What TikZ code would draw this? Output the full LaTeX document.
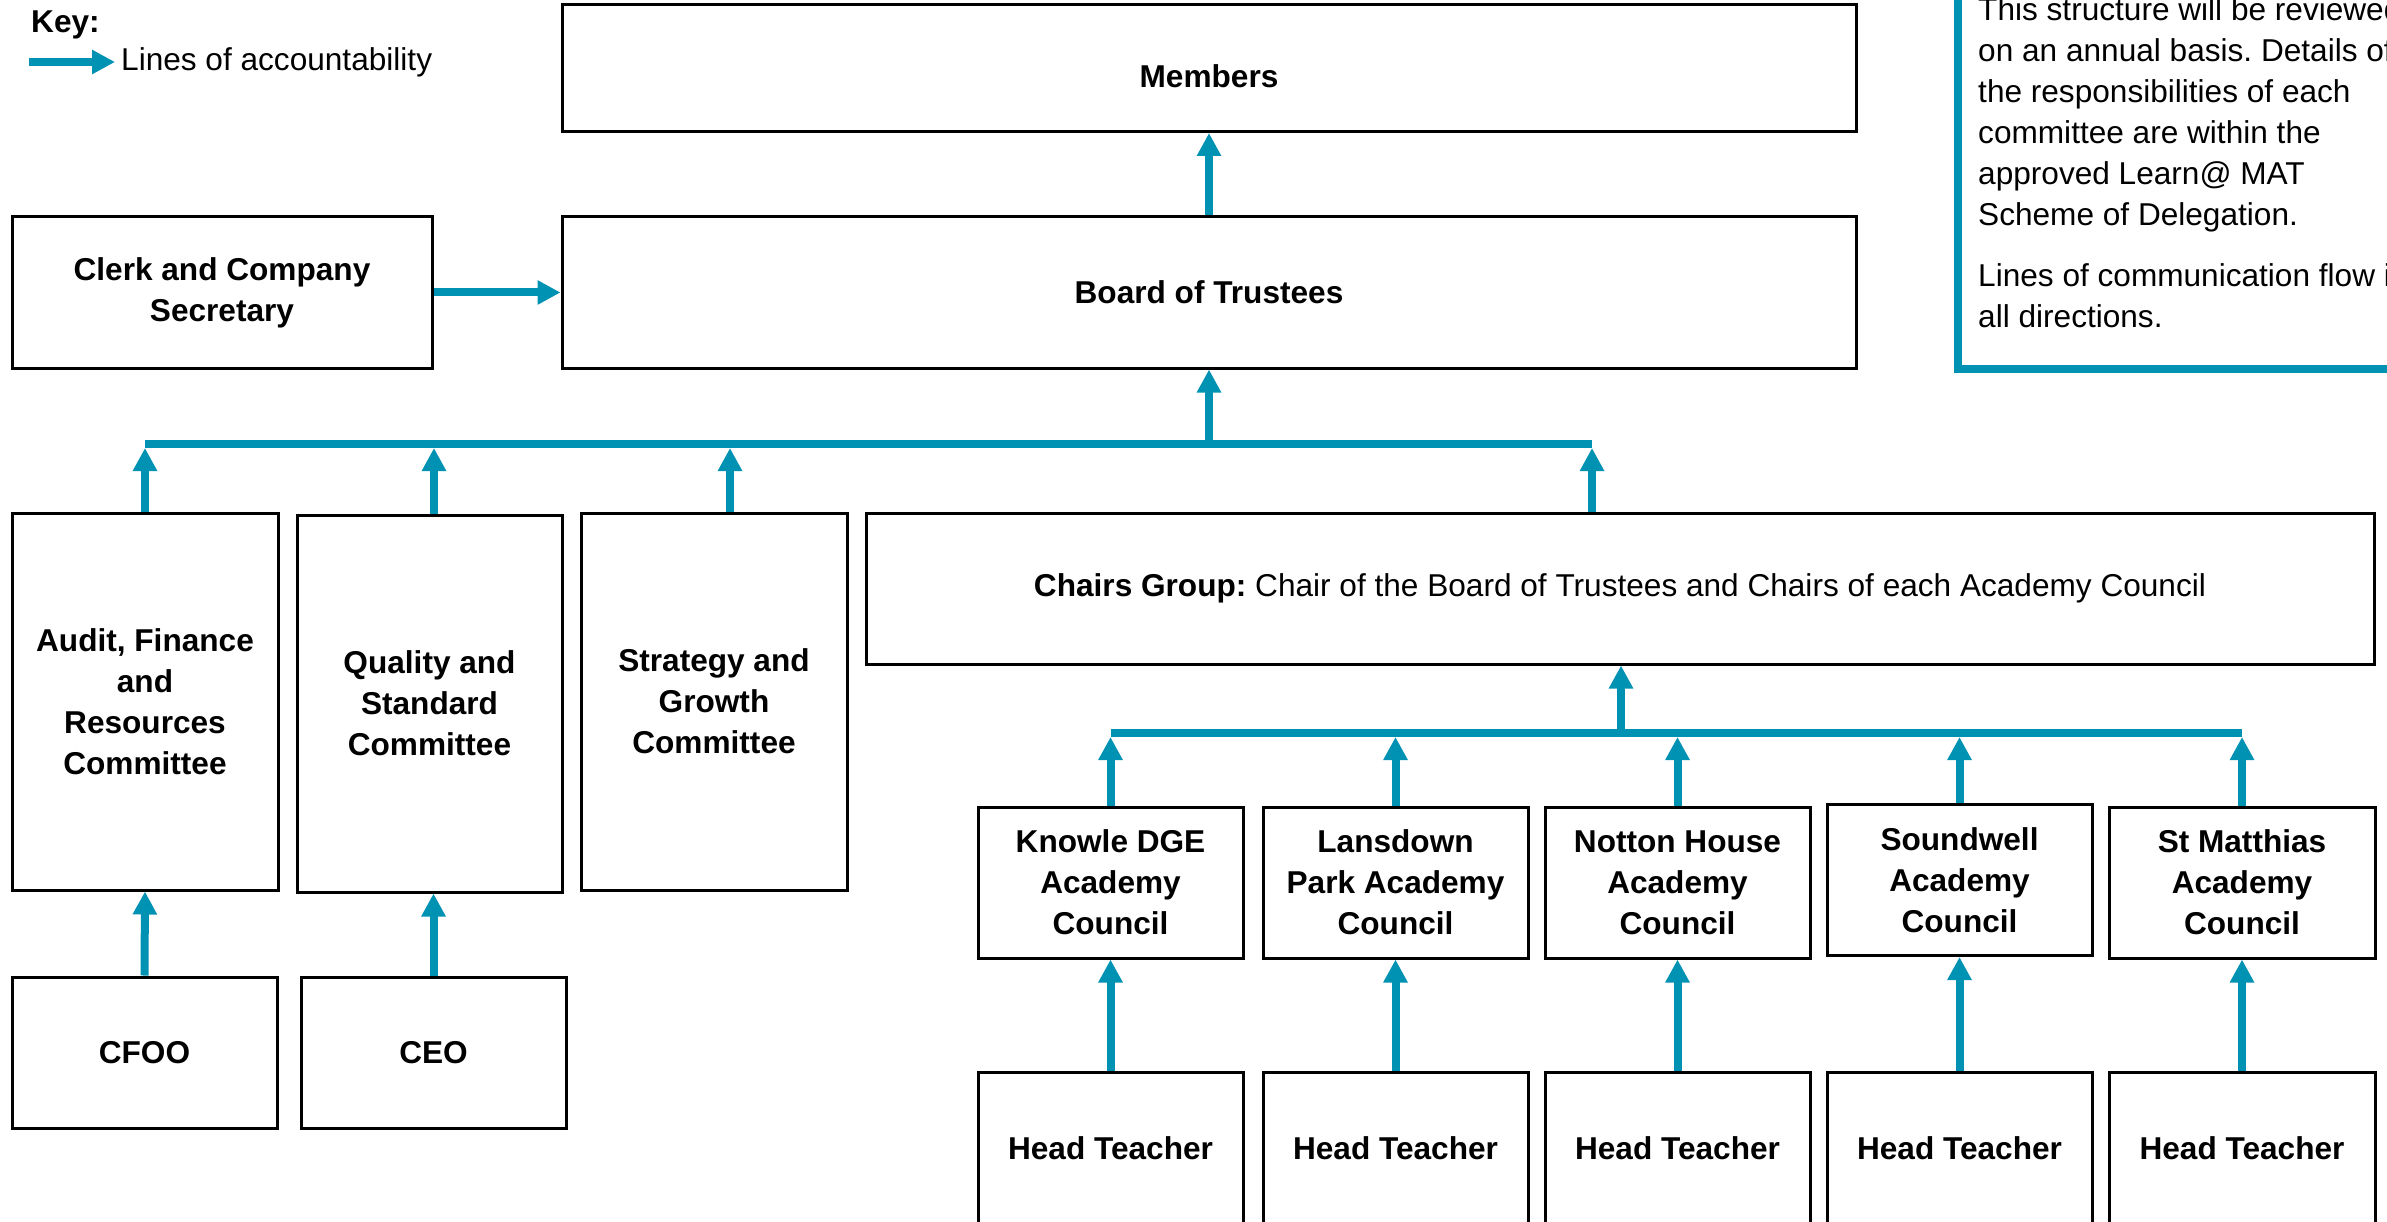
\documentclass[tikz,border=0pt]{standalone}
\usepackage{fontspec}
\setmainfont{Liberation Sans}
\usetikzlibrary{arrows.meta}
\definecolor{accteal}{RGB}{0,146,178}
\newcommand\bodyfont{\fontsize{31.6pt}{41pt}\selectfont}
\frenchspacing
\begin{document}
\begin{tikzpicture}[x=1pt,y=-1pt,
  box/.style={draw=black, line width=3pt, inner sep=0pt, align=center, font=\bodyfont\bfseries},
  txt/.style={inner sep=0pt, font=\bodyfont},
  acc/.style={draw=accteal, line width=8pt, -{Triangle[width=23pt,length=23pt]}},
  bus/.style={draw=accteal, line width=8pt},
]
\useasboundingbox (0,0) rectangle (2387,1222);
\clip (0,0) rectangle (2387,1222);

% key
\node[txt, anchor=base west, font=\bodyfont\bfseries] (keyhdr) at (31,33) {Key:};
\node[txt, anchor=base west] (keytxt) at (121,71) {Lines of accountability};
\coordinate (k1) at (29,62);
\coordinate (k2) at (115,62);
\draw[acc] (k1) -- (k2);

% note box
\draw[accteal, line width=8pt] (1958,-40) rectangle (2460,369);
\node[txt, anchor=north west, align=left] (note) at (1978,-3)
 {This structure will be reviewed\\ on an annual basis. Details of\\ the responsibilities of each\\ committee are within the\\ approved Learn@ MAT\\ Scheme of Delegation.\\[20pt] Lines of communication flow in\\ all directions.};

% top boxes
\node[box, minimum width=1294pt, minimum height=127pt] (members) at (1209,68) {};
\node[txt, font=\bodyfont\bfseries] (memberstxt) at (1209,76) {Members};
\node[box, minimum width=1294pt, minimum height=151pt] (board) at (1209,292.5) {Board of Trustees};
\node[box, minimum width=420pt, minimum height=151pt] (clerk) at (222,292.5) {Clerk and Company\\ Secretary};

% committees
\node[box, minimum width=266pt, minimum height=377pt] (audit) at (145,701.5) {Audit, Finance\\ and\\ Resources\\ Committee};
\node[box, minimum width=265pt, minimum height=377pt] (quality) at (429.5,703.5) {Quality and\\ Standard\\ Committee};
\node[box, minimum width=266pt, minimum height=377pt] (strategy) at (714,701.5) {Strategy and\\ Growth\\ Committee};
\node[box, minimum width=1508pt, minimum height=151pt, font=\bodyfont] (chairs) at (1620,588.5) {\textbf{Chairs Group:} Chair of the Board of Trustees and Chairs of each Academy Council};

% executives
\node[box, minimum width=265pt, minimum height=151pt] (cfoo) at (144.5,1052.5) {CFOO};
\node[box, minimum width=265pt, minimum height=151pt] (ceo) at (433.5,1052.5) {CEO};

% academy councils
\node[box, minimum width=265pt, minimum height=151pt] (knowle) at (1110.5,882.5) {Knowle DGE\\ Academy\\ Council};
\node[box, minimum width=265pt, minimum height=151pt] (lansdown) at (1395.5,882.5) {Lansdown\\ Park Academy\\ Council};
\node[box, minimum width=265pt, minimum height=151pt] (notton) at (1677.5,882.5) {Notton House\\ Academy\\ Council};
\node[box, minimum width=265pt, minimum height=151pt] (soundwell) at (1959.5,880) {Soundwell\\ Academy\\ Council};
\node[box, minimum width=266pt, minimum height=151pt] (stm) at (2242,882.5) {St Matthias\\ Academy\\ Council};

% head teachers
\node[box, minimum width=265pt, minimum height=152pt] (h1) at (1110.5,1148) {Head Teacher};
\node[box, minimum width=265pt, minimum height=152pt] (h2) at (1395.5,1148) {Head Teacher};
\node[box, minimum width=265pt, minimum height=152pt] (h3) at (1677.5,1148) {Head Teacher};
\node[box, minimum width=265pt, minimum height=152pt] (h4) at (1959.5,1148) {Head Teacher};
\node[box, minimum width=266pt, minimum height=152pt] (h5) at (2242,1148) {Head Teacher};

% bus lines
\coordinate (b1L) at (145,444);
\coordinate (b1R) at (1592,444);
\coordinate (t1) at (0,448);
\coordinate (b2L) at (1111,733);
\coordinate (b2R) at (2242,733);
\coordinate (t2) at (0,737);
\draw[bus] (b1L) -- (b1R);
\draw[bus] (b2L) -- (b2R);

% connectors
\draw[acc] (board.north) -- (members.south);
\draw[acc] (clerk.east) -- (board.west);
\draw[acc] (board.south |- b1L) -- (board.south);
\draw[acc] (audit.north) -- (audit.north |- t1);
\draw[acc] ([xshift=4.5pt]quality.north) -- ([xshift=4.5pt]quality.north |- t1);
\draw[acc] ([xshift=16pt]strategy.north) -- ([xshift=16pt]strategy.north |- t1);
\draw[acc] (chairs.north -| b1R) -- (b1R |- t1);
\draw[acc] ([xshift=1pt]chairs.south |- b2L) -- ([xshift=1pt]chairs.south);
\draw[acc] (knowle.north) -- (knowle.north |- t2);
\draw[acc] (lansdown.north) -- (lansdown.north |- t2);
\draw[acc] (notton.north) -- (notton.north |- t2);
\draw[acc] (soundwell.north) -- (soundwell.north |- t2);
\draw[acc] (stm.north) -- (stm.north |- t2);
\draw[acc] (cfoo.north) -- (audit.south);
\draw[acc] (ceo.north) -- (ceo.north |- quality.south);
\draw[acc] (h1.north) -- (knowle.south);
\draw[acc] (h2.north) -- (lansdown.south);
\draw[acc] (h3.north) -- (notton.south);
\draw[acc] (h4.north) -- (h4.north |- soundwell.south);
\draw[acc] (h5.north) -- (stm.south);
\end{tikzpicture}
\end{document}
